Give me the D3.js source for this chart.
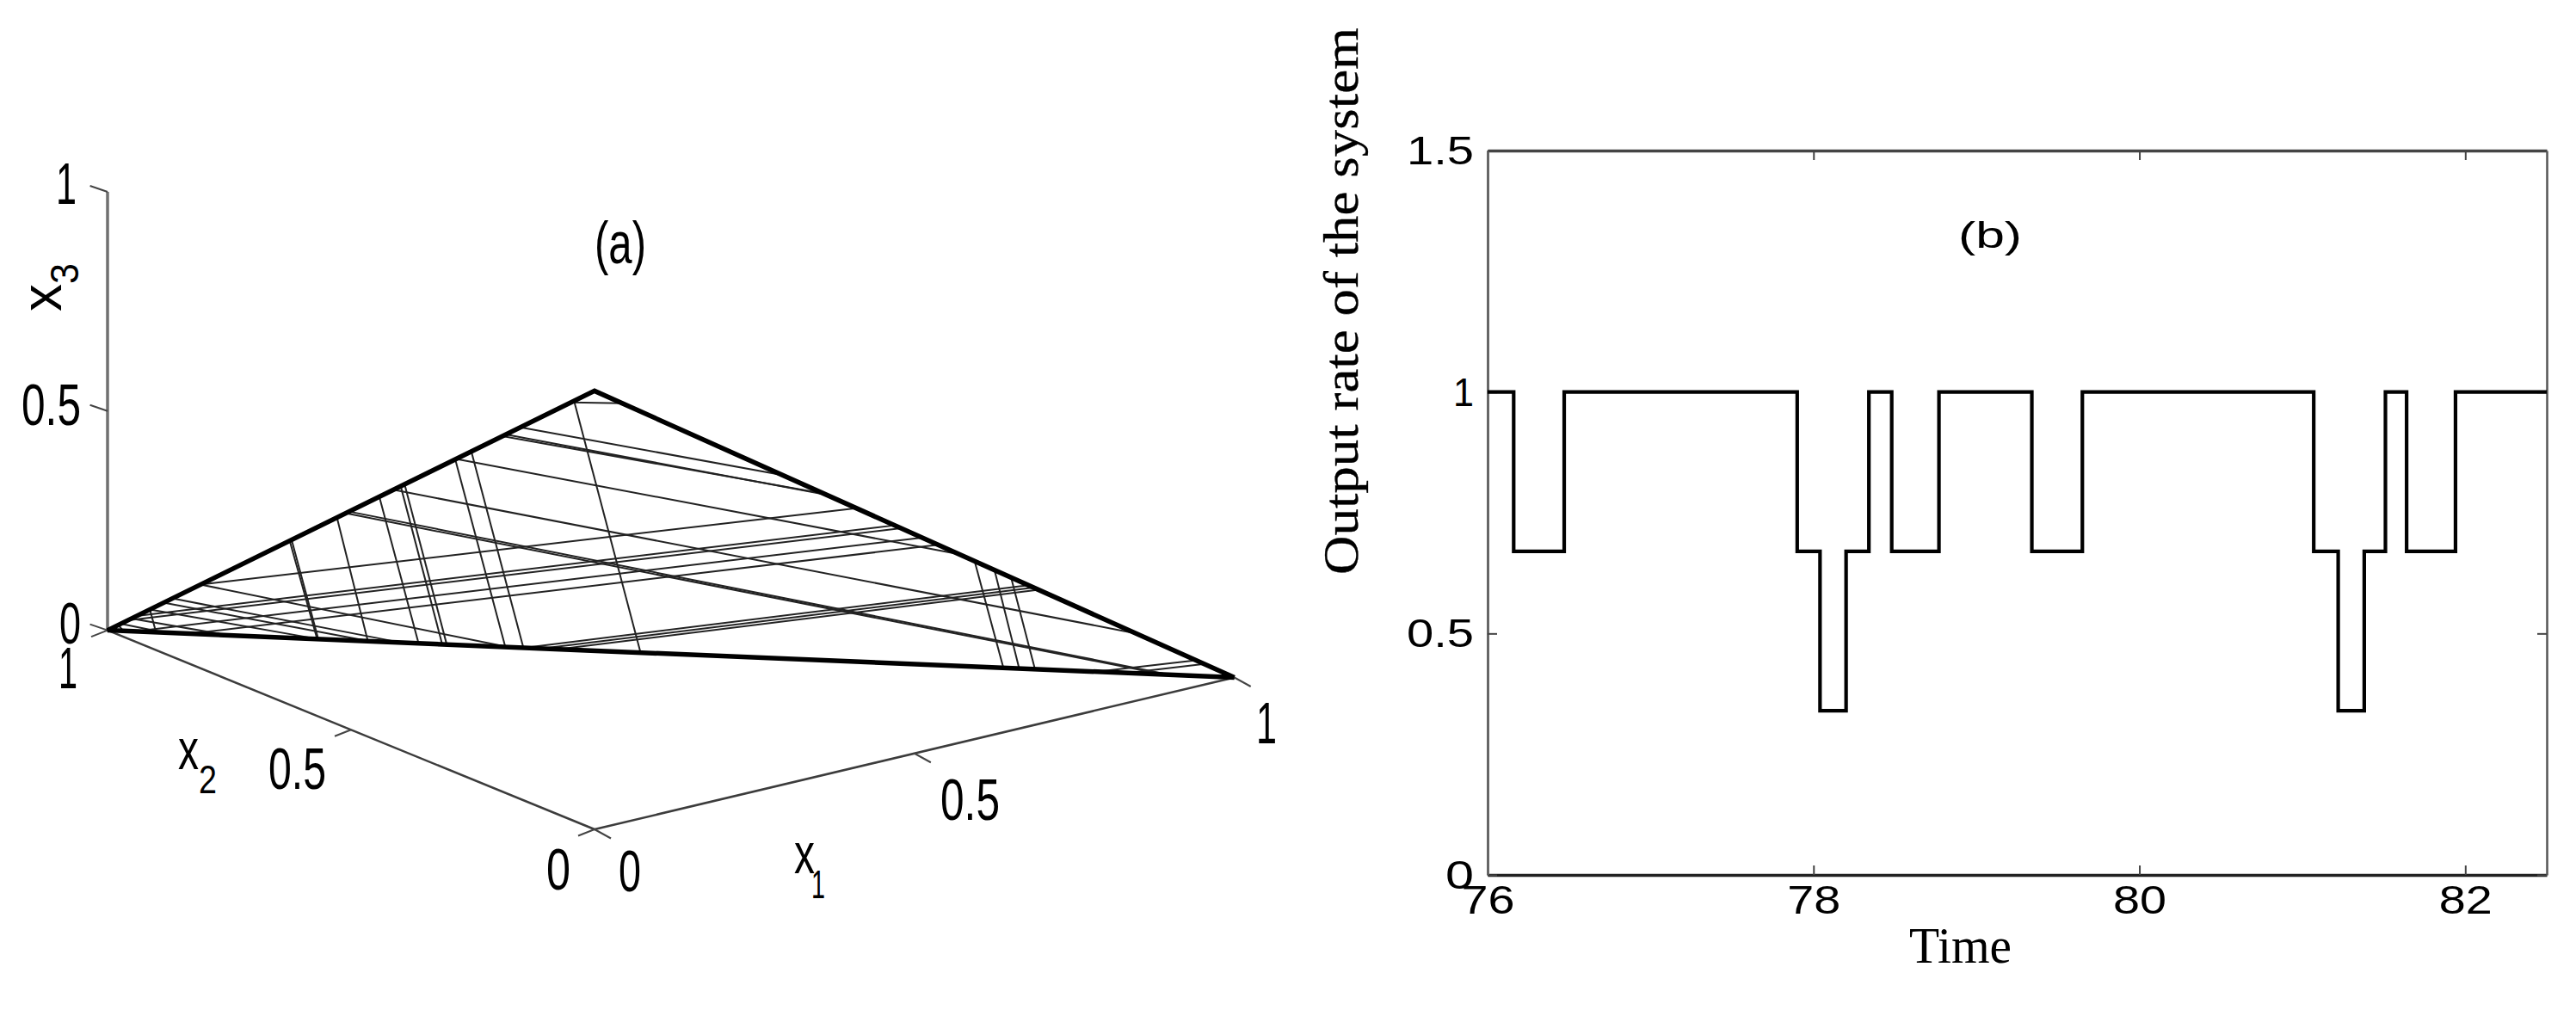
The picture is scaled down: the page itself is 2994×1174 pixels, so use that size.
<!DOCTYPE html>
<html><head><meta charset="utf-8">
<script src="https://cdn.jsdelivr.net/npm/d3@7"></script>
<style>html,body{margin:0;padding:0;background:#fff}svg{display:block}</style>
</head><body><div id="chart"></div>
<script>
// ---------- panel (b) data ----------
const stepTimes  = [76,76.16,76.47,77.90,78.04,78.20,78.34,78.48,78.77,79.34,79.65,81.07,81.22,81.38,81.51,81.64,81.94,82.5];
const stepRates  = [1,0.67,1,0.67,0.34,0.67,1,0.67,1,0.67,1,0.67,0.34,0.67,1,0.67,1,1];
const timeTicks  = [76,78,80,82];
const rateTicks  = [0,0.5,1,1.5];
const rateLabels = ["0","0.5","1","1.5"];

// ---------- panel (a) data: [edge, position along edge, edge, position along edge]
// edge "x1" = side x1=0 (position is x3); "x2" = side x2=0 (position is x1); "x3" = side x3=0 (position is x1)
const simplexEdge = [[1,0,0],[0,1,0],[0,0,1],[1,0,0]];
const steepLines = [
 ["x1",.022,"x3",.014],["x1",.087,"x3",.043],["x1",.374,"x3",.186],["x1",.378,"x3",.187],
 ["x1",.471,"x3",.231],["x1",.558,"x3",.276],["x1",.602,"x3",.297],["x1",.610,"x3",.301],
 ["x1",.714,"x3",.353],["x1",.747,"x3",.369],["x1",.958,"x3",.473],
 ["x2",.594,"x3",.795],["x2",.625,"x3",.809],["x2",.651,"x3",.823]];
const fallingLines = [
 ["x1",.848,"x2",.294],["x1",.818,"x2",.362],["x1",.811,"x2",.358],["x1",.716,"x2",.570],
 ["x1",.587,"x2",.846],["x1",.489,"x3",.937],["x1",.496,"x3",.943],["x1",.191,"x3",.355],
 ["x1",.133,"x3",.260],["x1",.115,"x3",.233],["x1",.087,"x3",.187],["x1",.049,"x3",.107],["x1",.027,"x3",.050]];
const risingLines = [
 ["x1",.191,"x2",.409],["x1",.952,"x2",.043],["x1",.042,"x2",.479],["x1",.060,"x2",.469],
 ["x3",.024,"x2",.512],["x3",.073,"x2",.537],["x3",.401,"x2",.694],["x3",.386,"x2",.686],
 ["x3",.370,"x2",.678],["x3",.905,"x2",.953],["x3",.878,"x2",.940]];
const cubeTicks = [0,0.5,1];
const cubeLabels = ["0","0.5","1"];

const W=2994,H=1174;
const svg=d3.select("#chart").append("svg").attr("width",W).attr("height",H).attr("viewBox",[0,0,W,H]);
svg.append("rect").attr("width",W).attr("height",H).attr("fill","#fff");
const SANS='"Liberation Sans",Arial,sans-serif', SERIF='"Liberation Serif","Times New Roman",serif';

function label(g,txt,x,y,size,len,opts={}){
  return g.append("text").text(txt).attr("x",x).attr("y",y)
    .attr("font-family",opts.font||SANS).attr("font-size",size).attr("fill","#000")
    .attr("text-anchor",opts.anchor||"start")
    .attr("textLength",len).attr("lengthAdjust","spacingAndGlyphs");
}

// ===== Panel (a): oblique projection through one linear scale per axis and screen direction =====
const a=svg.append("g");
const x1X=d3.scaleLinear([0,1],[0,743.7]), x1Y=d3.scaleLinear([0,1],[0,-176.5]);
const x2X=d3.scaleLinear([0,1],[0,-566]),  x2Y=d3.scaleLinear([0,1],[0,-231.4]);
const x3X=d3.scaleLinear([0,1],[0,0]),     x3Y=d3.scaleLinear([0,1],[0,-509.6]);
const ox=691, oy=964;
const proj=([p,q,r])=>[ox+x1X(p)+x2X(q)+x3X(r), oy+x1Y(p)+x2Y(q)+x3Y(r)];
const edgePoint=(e,t)=> e==="x1"?[0,1-t,t]: e==="x2"?[t,0,1-t]:[t,1-t,0];
const path=d3.line();

// axes
a.append("path").attr("d",path([proj([0,0,0]),proj([1,0,0])])).attr("stroke","#3c3c3c").attr("stroke-width",2.5).attr("fill","none");
a.append("path").attr("d",path([proj([0,0,0]),proj([0,1,0])])).attr("stroke","#3c3c3c").attr("stroke-width",2.5).attr("fill","none");
a.append("path").attr("d",path([proj([0,1,0]),proj([0,1,1])])).attr("stroke","#707070").attr("stroke-width",3.5).attr("fill","none");
function ticks(fn,dx,dy){
  a.selectAll(null).data(cubeTicks).join("path")
   .attr("d",d=>{const p=proj(fn(d));return path([p,[p[0]+dx,p[1]+dy]]);})
   .attr("stroke","#444").attr("stroke-width",2).attr("fill","none");
}
ticks(d=>[d,0,0],19,10.5);
ticks(d=>[0,d,0],-19,7.5);
ticks(d=>[0,1,d],-20.4,-7);

// trajectory segments
[steepLines,fallingLines,risingLines].forEach(set=>{
  a.append("g").selectAll("path").data(set).join("path")
   .attr("d",d=>path([proj(edgePoint(d[0],d[1])),proj(edgePoint(d[2],d[3]))]))
   .attr("stroke","#222").attr("stroke-width",2).attr("fill","none");
});
// simplex outline
a.append("path").attr("d",path(simplexEdge.map(proj))).attr("stroke","#000").attr("stroke-width",5.5)
 .attr("stroke-linejoin","miter").attr("fill","none");

// tick labels of panel (a)
const S=68;
const x3Pos=[[69,748,25],[25,494,69],[65,237,24]];   // x, baseline, width
cubeLabels.forEach((t,i)=>label(a,t,x3Pos[i][0],x3Pos[i][1],S,x3Pos[i][2]));
const x2Pos=[[635,1034,28],[312,917,67],[68,800,22]];
cubeLabels.forEach((t,i)=>label(a,t,x2Pos[i][0],x2Pos[i][1],S,x2Pos[i][2]));
const x1Pos=[[719,1036,26],[1093,953,69],[1460,864,24]];
cubeLabels.forEach((t,i)=>label(a,t,x1Pos[i][0],x1Pos[i][1],S,x1Pos[i][2]));
// axis titles
label(a,"x",207,894,66,24); label(a,"2",231,922,46,21);
label(a,"x",923,1015,66,24); label(a,"1",943,1044,46,16);
const t3=a.append("g").attr("transform","translate(71,362) rotate(-90)");
label(t3,"x",0,0,66,32); label(t3,"3",32,20,46,24);
label(a,"(a)",691,306,68,60);

// ===== Panel (b) =====
const b=svg.append("g");
const L=1729,R=2960,T=175,B=1017;
const xS=d3.scaleLinear([76,82.5],[L,R]);
const yS=d3.scaleLinear([0,1.5],[B,T]);
function styleAxis(g,color,w){
  g.select(".domain").attr("stroke",color).attr("stroke-width",w);
  g.selectAll(".tick line").attr("stroke","#444").attr("stroke-width",2);
}
const axB=b.append("g").attr("transform",`translate(0,${B})`).call(d3.axisBottom(xS).tickValues(timeTicks).tickSizeInner(-11).tickSizeOuter(0).tickFormat(d3.format("d")));
const axT=b.append("g").attr("transform",`translate(0,${T})`).call(d3.axisTop(xS).tickValues(timeTicks).tickSizeInner(-11).tickSizeOuter(0).tickFormat(""));
const axL=b.append("g").attr("transform",`translate(${L},0)`).call(d3.axisLeft(yS).tickValues(rateTicks).tickSizeInner(-11).tickSizeOuter(0).tickFormat((d,i)=>rateLabels[i]));
const axR=b.append("g").attr("transform",`translate(${R},0)`).call(d3.axisRight(yS).tickValues(rateTicks).tickSizeInner(-11).tickSizeOuter(0).tickFormat(""));
styleAxis(axB,"#222",3.5);styleAxis(axT,"#444",3.5);styleAxis(axL,"#666",3);styleAxis(axR,"#555",2.5);
axB.selectAll("text").attr("font-family",SANS).attr("font-size",46).attr("fill","#000")
  .attr("y",45).attr("dy",0).attr("textLength",62).attr("lengthAdjust","spacingAndGlyphs");
axL.selectAll("text").attr("font-family",SANS).attr("font-size",46).attr("fill","#000")
  .attr("x",-16).attr("dy",".34em").attr("textLength",d=>d===0||d===1?(d===1?24:33):78).attr("lengthAdjust","spacingAndGlyphs");

const stepLine=d3.line().x(d=>xS(d[0])).y(d=>yS(d[1])).curve(d3.curveStepAfter);
b.append("path").attr("d",stepLine(d3.zip(stepTimes,stepRates))).attr("fill","none").attr("stroke","#000").attr("stroke-width",4.2);

label(b,"(b)",2276,288,43,74);
label(b,"Time",2219,1119,60,119,{font:SERIF});
const yT=b.append("g").attr("transform","translate(1578,668) rotate(-90)");
label(yT,"Output rate of the system",0,0,56,636,{font:SERIF}).attr("stroke","#000").attr("stroke-width",0.3);
</script></body></html>
